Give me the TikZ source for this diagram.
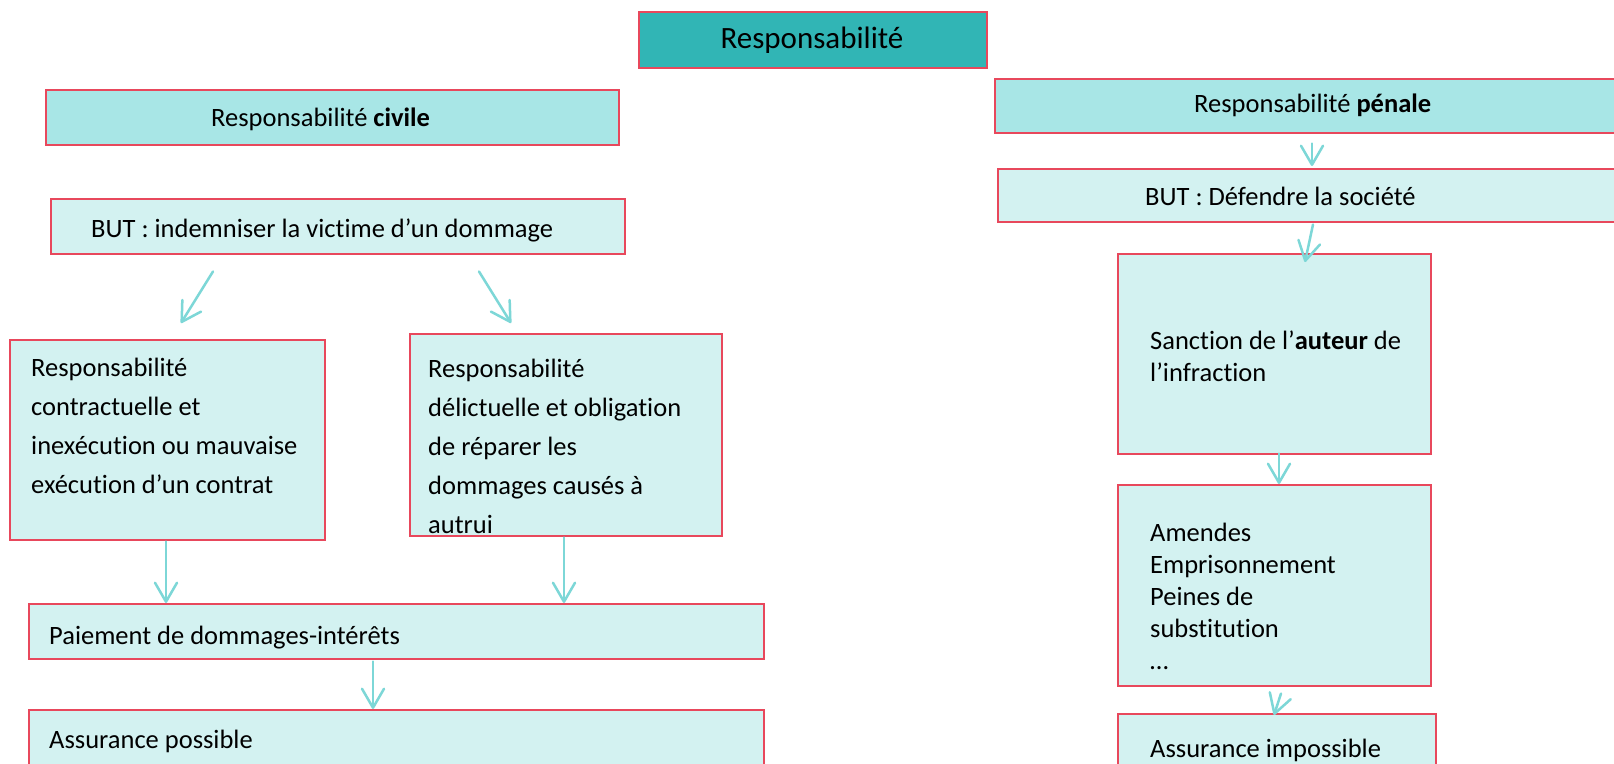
\documentclass[tikz,border=0pt]{standalone}
\usepackage{fontspec}
\setmainfont{Carlito}[Ligatures={NoCommon,NoContextual},Contextuals={NoAlternate}]
\usetikzlibrary{arrows.meta,calc}
\definecolor{titlefill}{HTML}{31B5B5}
\definecolor{headfill}{HTML}{A8E6E6}
\definecolor{bodyfill}{HTML}{D3F2F1}
\definecolor{bordc}{HTML}{E8485C}
\definecolor{arrc}{HTML}{7DD7D7}
\begin{document}
\begin{tikzpicture}[x=1pt,y=-1pt,
  box/.style={draw=bordc, line width=1.5pt, inner sep=0pt, anchor=north west},
  titlebox/.style={box, fill=titlefill},
  headbox/.style={box, fill=headfill},
  bodybox/.style={box, fill=bodyfill},
  txtL/.style={inner sep=0pt, align=left, font=\fontsize{26.5}{39}\selectfont},
  txtR/.style={inner sep=0pt, align=left, font=\fontsize{26.5}{32}\selectfont},
  arr/.style={draw=arrc, line width=2.5pt, line cap=round, line join=round,
    -{Straight Barb[length=19pt,width=22pt,line cap=round,line join=round]}}]
\clip (0,0) rectangle (1614,763);
\fill[white] (0,0) rectangle (1614,763);

% boxes
\node[titlebox, minimum width=348pt, minimum height=56pt] (title) at (638,11) {};
\node[headbox, minimum width=573pt, minimum height=55pt] (civ) at (45,89) {};
\node[bodybox, minimum width=574pt, minimum height=55pt] (butc) at (50,198) {};
\node[bodybox, minimum width=315pt, minimum height=200pt] (contr) at (9,339) {};
\node[bodybox, minimum width=312pt, minimum height=202pt] (delic) at (409,333) {};
\node[bodybox, minimum width=735pt, minimum height=55pt] (pay) at (28,603) {};
\node[bodybox, minimum width=735pt, minimum height=90pt] (assp) at (28,709) {};
\node[headbox, minimum width=646pt, minimum height=54pt] (pen) at (994,78) {};
\node[bodybox, minimum width=643pt, minimum height=53pt] (butp) at (997,168) {};
\node[bodybox, minimum width=313pt, minimum height=200pt] (sanc) at (1117,253) {};
\node[bodybox, minimum width=313pt, minimum height=201pt] (amen) at (1117,484) {};
\node[bodybox, minimum width=318pt, minimum height=90pt] (assi) at (1117,713) {};

% texts
\node[inner sep=0pt, font=\fontsize{31}{37}\selectfont] (titlet) at (812,40) {Responsabilité};
\node[txtL, anchor=west] (civt) at (211,119) {Responsabilité \textbf{civile}};
\node[txtL, anchor=west] (butct) at (91,230) {BUT : indemniser la victime d’un dommage};
\node[txtL, anchor=west] (contrt) at (31,426) {Responsabilité\\contractuelle et\\inexécution ou mauvaise\\exécution d’un contrat};
\node[txtL, anchor=west] (delict) at (428,446) {Responsabilité\\délictuelle et obligation\\de réparer les\\dommages causés à\\autrui};
\node[txtL, anchor=west] (payt) at (49,638) {Paiement de dommages-intérêts};
\node[txtL, anchor=west] (asspt) at (49,741) {Assurance possible};
\node[txtR, anchor=west] (pent) at (1194,105) {Responsabilité \textbf{pénale}};
\node[txtR, anchor=west] (butpt) at (1145,196) {BUT : Défendre la société};
\node[txtR, anchor=west] (senct) at (1150,356) {Sanction de l’\textbf{auteur} de\\l’infraction};
\node[txtR, anchor=west] (ament) at (1150,596) {Amendes\\Emprisonnement\\Peines de\\substitution\\…};
\node[txtR, anchor=west] (assit) at (1150,750) {Assurance impossible};

% arrows
\draw[arr] ($(butc.south west)+(163,17)$) -- ($(contr.north west)+(172,-16)$);
\draw[arr] ($(butc.south west)+(429,17)$) -- ($(delic.north west)+(102,-10)$);
\draw[arr] ($(contr.south west)+(157,1)$) -- ($(pay.north west)+(138,0)$);
\draw[arr] ($(delic.south west)+(155,1)$) -- ($(pay.north west)+(536,0)$);
\draw[arr] ($(pay.south west)+(345,2)$) -- ($(assp.north west)+(345,0)$);
\draw[arr] ($(pen.south west)+(318,10)$) -- ($(butp.north west)+(315,-2)$);
\draw[arr] ($(butp.south west)+(316,2)$) -- ($(sanc.north west)+(188,9)$);
\draw[arr] ($(sanc.south west)+(162,-1)$) -- ($(amen.north west)+(162,0)$);
\draw[arr] ($(amen.south west)+(164,7)$) -- ($(assi.north west)+(157,2)$);
\end{tikzpicture}
\end{document}
